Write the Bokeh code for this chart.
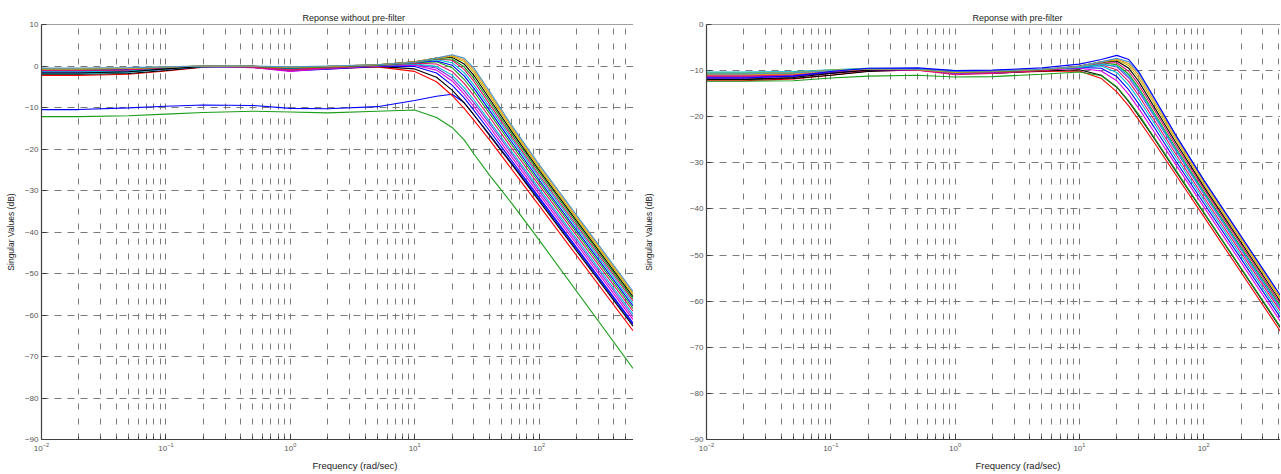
from bokeh.plotting import figure
from bokeh.layouts import row
from bokeh.models import FixedTicker, Range1d, Span, Title
from bokeh.embed import file_html
from bokeh.resources import INLINE

# ---------------- data ----------------
FREQ_L = [0.01, 0.02, 0.05, 0.1, 0.2, 0.5, 1, 2, 5, 10, 15, 20, 25, 30, 40, 60, 100, 570]
FREQ_R = [0.01, 0.02, 0.05, 0.1, 0.2, 0.5, 1, 2, 5, 10, 15, 20, 25, 30, 40, 60, 100, 415]

# Left panel: response without pre-filter (dB)
L_BLUE_LOW = [-10.5, -10.5, -10.1, -9.7, -9.4, -9.5, -10.2, -10.3, -9.8, -8.3, -7.3, -6.8, -8.8, -11.8, -16.5, -23.3, -32.0, -62.3]
L_GREEN_LOW = [-12.2, -12.2, -12.0, -11.6, -11.2, -10.9, -11.1, -11.3, -10.9, -10.6, -12.4, -14.8, -17.8, -21.2, -26.3, -33.0, -41.9, -72.9]
L01 = [-2.3, -2.3, -2.0, -1.2, -0.3, 0.0, -0.8, -0.7, -0.2, -1.3, -3.8, -7.1, -10.2, -13.1, -17.8, -24.8, -33.6, -63.8]
L02 = [-2.0, -2.0, -1.8, -1.1, -0.2, -0.1, -0.6, -0.5, -0.1, -0.7, -2.7, -5.8, -8.9, -11.8, -16.7, -23.6, -32.5, -62.7]
L03 = [-1.3, -1.3, -1.1, -0.6, -0.1, -0.3, -1.2, -0.8, -0.1, -0.1, -1.7, -4.6, -7.7, -10.7, -15.6, -22.7, -31.6, -61.9]
L04 = [-1.6, -1.6, -1.4, -0.8, -0.1, -0.4, -1.3, -0.6, 0.0, 0.2, -1.0, -3.6, -6.8, -9.8, -14.7, -21.9, -30.8, -61.1]
L05 = [-1.5, -1.5, -1.3, -0.7, -0.1, -0.3, -1.1, -0.6, 0.1, 0.4, -0.5, -2.9, -6.0, -8.9, -13.9, -21.1, -30.1, -60.4]
L06 = [-1.8, -1.8, -1.5, -0.8, -0.1, -0.2, -0.7, -0.4, 0.1, 0.5, -0.1, -2.2, -5.2, -8.2, -13.3, -20.5, -29.5, -59.8]
L07 = [-1.2, -1.2, -1.0, -0.5, 0.0, -0.3, -1.0, -0.5, 0.1, 0.7, 0.5, -1.3, -4.2, -7.2, -12.3, -19.7, -28.7, -59.1]
L08 = [-0.9, -0.9, -0.7, -0.3, 0.0, -0.2, -0.6, -0.3, 0.2, 0.8, 1.0, -0.4, -3.2, -6.2, -11.4, -18.9, -28.0, -58.4]
L09 = [-1.0, -1.0, -0.8, -0.4, 0.0, -0.2, -0.5, -0.2, 0.2, 0.9, 1.2, 0.2, -2.4, -5.4, -10.7, -18.2, -27.4, -57.8]
L10 = [-1.4, -1.4, -1.2, -0.6, -0.1, -0.1, -0.4, -0.2, 0.2, 0.9, 1.5, 0.8, -1.6, -4.6, -9.9, -17.5, -26.7, -57.2]
L11 = [-1.1, -1.1, -0.9, -0.4, 0.0, -0.3, -0.9, -0.4, 0.2, 1.0, 1.7, 1.4, -0.8, -3.7, -9.2, -16.9, -26.2, -56.6]
L12 = [-0.7, -0.7, -0.6, -0.3, 0.0, -0.1, -0.4, -0.2, 0.2, 0.9, 1.7, 1.7, -0.2, -3.0, -8.5, -16.3, -25.6, -56.1]
L13 = [-1.7, -1.7, -1.4, -0.7, -0.1, -0.1, -0.3, -0.1, 0.3, 1.0, 1.9, 2.1, 0.5, -2.3, -7.9, -15.7, -25.1, -55.6]
L14 = [-0.6, -0.6, -0.5, -0.2, 0.0, -0.1, -0.3, -0.1, 0.3, 1.0, 1.9, 2.3, 1.1, -1.6, -7.2, -15.1, -24.6, -55.1]
L15 = [-0.8, -0.8, -0.6, -0.3, 0.0, -0.1, -0.2, -0.1, 0.3, 0.9, 1.9, 2.5, 1.5, -1.0, -6.6, -14.6, -24.1, -54.7]
L16 = [-0.5, -0.5, -0.4, -0.2, 0.0, 0.0, -0.2, 0.0, 0.3, 0.9, 1.9, 2.7, 1.9, -0.5, -6.1, -14.2, -23.7, -54.3]

# Right panel: response with pre-filter (dB)
R01 = [-12.2, -12.2, -11.8, -11.0, -10.1, -9.9, -10.4, -10.5, -10.2, -10.1, -11.7, -14.6, -17.7, -20.7, -25.6, -32.7, -41.6, -66.6]
R02 = [-11.9, -11.9, -11.7, -11.0, -10.2, -9.8, -10.5, -10.6, -10.1, -9.8, -11.0, -13.6, -16.8, -19.8, -24.7, -31.9, -40.8, -65.8]
R03 = [-12.3, -12.3, -12.2, -11.6, -11.2, -11.0, -11.4, -11.3, -10.8, -10.3, -11.1, -13.5, -16.6, -19.5, -24.5, -31.7, -40.7, -65.6]
R04 = [-11.6, -11.6, -11.3, -10.6, -9.9, -9.9, -10.6, -10.4, -9.9, -9.5, -10.1, -12.2, -15.2, -18.2, -23.3, -30.5, -39.5, -64.4]
R05 = [-11.4, -11.4, -11.1, -10.4, -9.8, -9.8, -10.3, -10.2, -9.8, -9.3, -9.5, -11.3, -14.2, -17.2, -22.3, -29.7, -38.7, -63.6]
R06 = [-10.5, -10.5, -10.3, -9.9, -9.6, -9.7, -10.2, -10.1, -9.7, -9.2, -9.0, -10.4, -13.2, -16.2, -21.4, -28.9, -38.0, -62.9]
R07 = [-11.0, -11.0, -10.8, -10.2, -9.7, -9.8, -10.6, -10.4, -9.8, -9.1, -8.8, -9.8, -12.4, -15.4, -20.7, -28.2, -37.4, -62.2]
R08 = [-11.3, -11.3, -11.0, -10.3, -9.7, -9.8, -10.7, -10.5, -9.9, -9.1, -8.5, -9.2, -11.6, -14.6, -19.9, -27.5, -36.7, -61.7]
R09 = [-10.8, -10.8, -10.6, -10.0, -9.6, -9.7, -10.3, -10.2, -9.8, -9.1, -8.3, -8.7, -10.8, -13.7, -19.2, -26.9, -36.2, -61.1]
R10 = [-11.2, -11.2, -10.9, -10.2, -9.7, -9.9, -10.9, -10.6, -10.0, -9.1, -8.3, -8.3, -10.2, -13.0, -18.5, -26.3, -35.6, -60.6]
R11 = [-10.3, -10.3, -10.2, -9.8, -9.5, -9.6, -10.0, -10.0, -9.7, -9.3, -8.7, -9.0, -11.2, -14.1, -19.6, -27.2, -36.5, -61.4]
R12 = [-11.9, -11.9, -11.5, -10.6, -9.9, -9.7, -10.2, -10.2, -9.8, -9.0, -8.1, -7.9, -9.5, -12.3, -17.9, -25.7, -35.1, -60.1]
R13 = [-10.6, -10.6, -10.4, -9.9, -9.6, -9.8, -10.4, -10.2, -9.8, -9.1, -8.1, -7.7, -8.9, -11.6, -17.2, -25.1, -34.6, -59.6]
R14 = [-10.9, -10.9, -10.7, -10.1, -9.7, -9.7, -10.1, -10.0, -9.7, -9.1, -8.1, -7.5, -8.5, -11.0, -16.6, -24.6, -34.1, -59.2]
R15 = [-10.7, -10.7, -10.5, -10.0, -9.6, -9.7, -10.2, -10.1, -9.7, -9.1, -8.1, -7.3, -8.1, -10.5, -16.1, -24.2, -33.7, -58.8]
R16 = [-11.6, -11.6, -11.2, -10.2, -9.5, -9.4, -10.0, -9.9, -9.4, -8.6, -7.6, -6.7, -7.6, -10.2, -15.9, -24.1, -33.7, -58.8]

X_MAJOR = [0.01, 0.1, 1, 10, 100]
X_LABELS = {"0.01": "10\u207b\u00b2", "0.1": "10\u207b\u00b9", "1": "10\u2070", "10": "10\u00b9", "100": "10\u00b2"}
X_MINOR = [0.02, 0.03, 0.04, 0.05, 0.06, 0.07, 0.08, 0.09,
           0.2, 0.3, 0.4, 0.5, 0.6, 0.7, 0.8, 0.9,
           2, 3, 4, 5, 6, 7, 8, 9,
           20, 30, 40, 50, 60, 70, 80, 90,
           200, 300, 400, 500, 600, 700, 800, 900]
Y_TICKS_L = [-90, -80, -70, -60, -50, -40, -30, -20, -10, 0, 10]
Y_TICKS_R = [-90, -80, -70, -60, -50, -40, -30, -20, -10, 0]

C_BLUE = "#0000ff"
C_GREEN = "#1a9e1a"
C_RED = "#ff0000"
C_CYAN = "#00bcd0"
C_MAGENTA = "#e000e0"
C_YELLOW = "#c8b400"
C_BLACK = "#000000"
C_PURPLE = "#8a2be2"
C_CRIMSON = "#d8146e"
C_ORANGE = "#e09a20"
C_STEEL = "#4d95c8"

LEFT_CURVES = [
    (L_GREEN_LOW, C_GREEN), (L_BLUE_LOW, C_BLUE),
    (L01, C_RED), (L02, C_BLACK), (L03, C_BLUE), (L04, C_MAGENTA),
    (L05, C_PURPLE), (L06, C_CYAN), (L07, C_CRIMSON), (L08, C_GREEN),
    (L09, C_BLUE), (L10, C_CYAN), (L11, C_CRIMSON), (L12, C_GREEN),
    (L13, C_BLACK), (L14, C_YELLOW), (L15, C_ORANGE), (L16, C_STEEL),
]
RIGHT_CURVES = [
    (R01, C_RED), (R02, C_BLACK), (R03, C_GREEN), (R04, C_MAGENTA),
    (R05, C_BLUE), (R06, C_CYAN), (R07, C_CRIMSON), (R08, C_PURPLE),
    (R09, C_GREEN), (R10, C_CRIMSON), (R11, C_CYAN), (R12, C_BLACK),
    (R13, C_YELLOW), (R14, C_ORANGE), (R15, C_STEEL), (R16, C_BLUE),
]

FONT = "Liberation Sans"


def make_panel(title, freqs, curves, y_lo, y_hi, y_ticks, x_max, frame_w,
               border_left, ylabel_standoff, title_x, xlabel_x):
    p = figure(
        x_axis_type="log",
        x_range=Range1d(0.01, x_max),
        y_range=Range1d(y_lo, y_hi),
        frame_width=frame_w, frame_height=415,
        min_border_left=border_left, min_border_right=0,
        min_border_top=24, min_border_bottom=34,
        output_backend="svg", toolbar_location=None,
    )
    p.outline_line_color = None
    p.background_fill_color = "white"
    p.border_fill_color = "white"

    t = Title(text=title, align="left", offset=title_x, standoff=4,
              text_font=FONT, text_font_size="9px", text_font_style="normal",
              text_color="#1a1a1a")
    p.add_layout(t, "above")

    p.xaxis.ticker = FixedTicker(ticks=X_MAJOR, minor_ticks=X_MINOR)
    p.xaxis.major_label_overrides = X_LABELS
    p.yaxis.ticker = FixedTicker(ticks=y_ticks, minor_ticks=[])

    for ax in (p.xaxis[0], p.yaxis[0]):
        ax.axis_line_color = "#404040"
        ax.axis_line_width = 1.2
        ax.major_tick_line_color = "#404040"
        ax.minor_tick_line_color = "#404040"
        ax.major_tick_in = 5
        ax.major_tick_out = 0
        ax.minor_tick_in = 3
        ax.minor_tick_out = 0
        ax.major_label_text_font = FONT
        ax.major_label_text_font_size = "8px"
        ax.major_label_text_color = "#555555"
        ax.major_label_standoff = 3
        ax.axis_label_text_font = FONT
        ax.axis_label_text_font_size = "8.5px"
        ax.axis_label_text_font_style = "normal"
        ax.axis_label_text_color = "#222222"

    p.yaxis.axis_label = "Singular Values (dB)"
    p.yaxis.axis_label_standoff = ylabel_standoff

    xl = Title(text="Frequency (rad/sec)", align="left", offset=xlabel_x, standoff=8,
               text_font=FONT, text_font_size="9.5px", text_font_style="normal",
               text_color="#222222")
    p.add_layout(xl, "below")

    p.xgrid.grid_line_color = "#7a7a7a"
    p.xgrid.grid_line_dash = "6 9"
    p.xgrid.minor_grid_line_color = "#7a7a7a"
    p.xgrid.minor_grid_line_dash = "6 9"
    p.ygrid.grid_line_color = "#7a7a7a"
    p.ygrid.grid_line_dash = "7 6"

    p.add_layout(Span(location=y_hi, dimension="width", line_color="#404040", line_width=1.2))

    for vals, col in curves:
        p.line(freqs, vals, line_color=col, line_width=1.1)
    return p


p_left = make_panel("Reponse without pre-filter", FREQ_L, LEFT_CURVES, -90, 10, Y_TICKS_L,
                    575, 592, 41, 6, 261, 271)
p_right = make_panel("Reponse with pre-filter", FREQ_R, RIGHT_CURVES, -90, 0, Y_TICKS_R,
                     415, 574, 73, 33, 266, 269)

layout = row(p_left, p_right)
open("out.html", "w").write(file_html(layout, INLINE))
